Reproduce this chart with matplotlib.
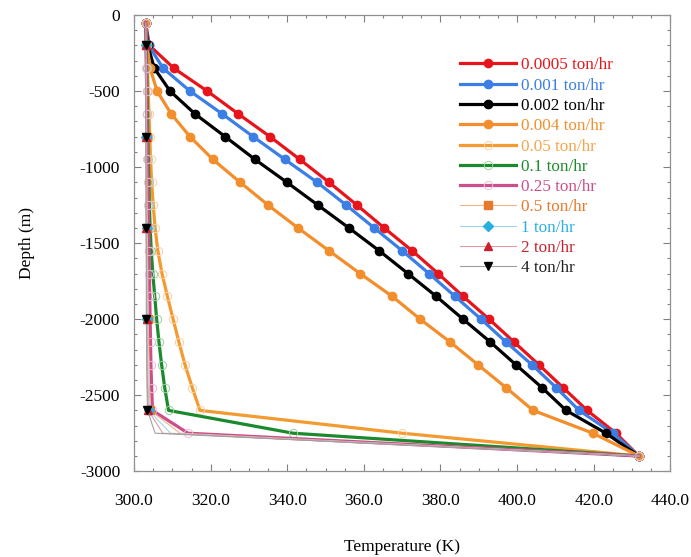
import matplotlib
matplotlib.use("Agg")
import matplotlib.pyplot as plt
from matplotlib.ticker import MultipleLocator, FormatStrFormatter

plt.rcParams['font.family'] = ['Liberation Serif', 'DejaVu Serif']
plt.rcParams['axes.unicode_minus'] = False

# depth of the nodes (m)
depth = [-50, -200, -350, -500, -650, -800, -950, -1100, -1250, -1400,
         -1550, -1700, -1850, -2000, -2150, -2300, -2450, -2600, -2750, -2900]

# temperature (K) per flow rate
t_0005 = [303.0, 304.0, 310.4, 319.1, 327.2, 335.5, 343.3, 350.9, 358.2, 365.3,
          372.6, 379.4, 385.9, 392.7, 399.2, 405.7, 412.0, 418.3, 425.8, 431.8]
t_001 = [303.0, 303.8, 307.6, 314.6, 323.0, 331.1, 339.4, 347.8, 355.4, 362.7,
         370.0, 377.0, 383.8, 390.6, 397.1, 403.9, 410.2, 416.2, 425.0, 431.8]
t_002 = [303.0, 303.6, 305.3, 309.4, 315.9, 323.8, 331.6, 339.9, 348.0, 356.1,
         364.0, 371.5, 378.9, 385.9, 393.0, 399.7, 406.5, 412.8, 423.2, 431.8]
t_004 = [303.0, 303.4, 304.2, 306.0, 309.7, 314.6, 320.6, 327.7, 335.0, 342.8,
         350.9, 359.0, 367.4, 374.7, 382.5, 389.8, 397.1, 404.2, 419.8, 431.8]
t_05 = [303.0, 303.3, 303.5, 303.7, 303.9, 304.1, 304.3, 304.6, 305.0, 305.5,
        306.2, 307.3, 308.7, 310.2, 311.7, 313.3, 315.2, 317.2, 370.0, 431.8]
t_1 = [303.0, 303.2, 303.3, 303.4, 303.5, 303.6, 303.7, 303.9, 304.0, 304.2,
       304.5, 304.9, 305.4, 305.9, 306.5, 307.2, 308.0, 309.0, 341.5, 431.8]
t_25 = [303.0, 303.1, 303.2, 303.3, 303.3, 303.4, 303.5, 303.6, 303.7, 303.8,
        303.9, 304.0, 304.1, 304.2, 304.3, 304.4, 304.6, 304.8, 314.1, 431.8]
t_5 = [303.0, 303.1, 303.1, 303.2, 303.2, 303.3, 303.3, 303.4, 303.4, 303.5,
       303.5, 303.6, 303.6, 303.7, 303.8, 303.9, 304.0, 304.2, 312.0, 431.8]
t_10 = [303.0, 303.0, 303.1, 303.1, 303.1, 303.2, 303.2, 303.2, 303.3, 303.3,
        303.3, 303.4, 303.4, 303.5, 303.5, 303.6, 303.7, 303.9, 309.5, 431.8]
t_20 = [303.0, 303.0, 303.0, 303.1, 303.1, 303.1, 303.1, 303.2, 303.2, 303.2,
        303.2, 303.3, 303.3, 303.3, 303.4, 303.4, 303.5, 303.7, 307.5, 431.8]
t_40 = [303.0, 303.0, 303.0, 303.0, 303.0, 303.1, 303.1, 303.1, 303.1, 303.1,
        303.2, 303.2, 303.2, 303.2, 303.3, 303.3, 303.4, 303.5, 305.5, 431.8]

fig = plt.figure(figsize=(6.91, 5.57), dpi=100)
ax = fig.add_axes([0.194, 0.154, 0.776, 0.819])

# thick lines, filled circles
ax.plot(t_0005, depth, '-o', color='#e8141c', lw=2.3, ms=6, label='0.0005 ton/hr')
ax.plot(t_001, depth, '-o', color='#3a7ee6', lw=2.3, ms=6, label='0.001 ton/hr')
ax.plot(t_002, depth, '-o', color='#000000', lw=2.3, ms=6, label='0.002 ton/hr')
ax.plot(t_004, depth, '-o', color='#f28e2b', lw=2.3, ms=6, label='0.004 ton/hr')
# thick lines, open light circles
ax.plot(t_05, depth, '-o', color='#f39a30', lw=2.3, ms=6, mfc='none',
        mec='#f8d0a4', mew=0.7, label='0.05 ton/hr')
ax.plot(t_1, depth, '-o', color='#1b8a2c', lw=2.3, ms=6, mfc='none',
        mec='#9ccfa4', mew=0.7, label='0.1 ton/hr')
ax.plot(t_25, depth, '-o', color='#cc4f8c', lw=2.3, ms=6, mfc='none',
        mec='#eebcd5', mew=0.7, label='0.25 ton/hr')
# thin lines, markers every 4th node
ax.plot(t_5, depth, '-s', color='#f5b487', lw=0.8, ms=6, mfc='#e8782a',
        mec='#e8782a', markevery=(1, 4), label='0.5 ton/hr')
ax.plot(t_10, depth, '-D', color='#9dd6ee', lw=0.8, ms=5, mfc='#2ab0e0',
        mec='#2ab0e0', markevery=(1, 4), label='1 ton/hr')
ax.plot(t_20, depth, '-^', color='#e49aa2', lw=0.8, ms=6, mfc='#c8202e',
        mec='#c8202e', markevery=(1, 4), label='2 ton/hr')
ax.plot(t_40, depth, '-v', color='#a0a0a0', lw=0.8, ms=6, mfc='black',
        mec='black', markevery=(1, 4), label='4 ton/hr')

ax.set_xlim(300, 440)
ax.set_ylim(-3000, 0)
ax.xaxis.set_major_locator(MultipleLocator(20))
ax.xaxis.set_minor_locator(MultipleLocator(5))
ax.yaxis.set_major_locator(MultipleLocator(500))
ax.yaxis.set_minor_locator(MultipleLocator(100))
ax.xaxis.set_major_formatter(FormatStrFormatter('%.1f'))
ax.tick_params(which='both', direction='in', top=True, right=True,
               labelsize=12.5, color='#808080')
ax.tick_params(axis='x', which='major', pad=16)
ax.tick_params(axis='y', which='major', pad=10)
ax.tick_params(which='major', length=5, width=0.8)
ax.tick_params(which='minor', length=2.5, width=0.8)
for s in ax.spines.values():
    s.set_color('#909090')
    s.set_linewidth(0.9)

ax.set_xlabel('Temperature (K)', fontsize=12.5, labelpad=21)
ax.set_ylabel('Depth (m)', fontsize=12.5, labelpad=32)

leg = ax.legend(loc='upper left', bbox_to_anchor=(0.608, 0.907), frameon=False,
                fontsize=12.3, borderpad=0, borderaxespad=0, handlelength=3.3,
                handletextpad=0.25, labelspacing=0.25)
for line, text in zip(leg.get_lines(), leg.get_texts()):
    c = line.get_color()
    if line.get_linewidth() < 1:
        c = line.get_markerfacecolor()
    text.set_color(c)
leg.get_texts()[4].set_color('#f5a54a')
leg.get_texts()[10].set_color('#202020')

fig.savefig('out.png', dpi=100)
